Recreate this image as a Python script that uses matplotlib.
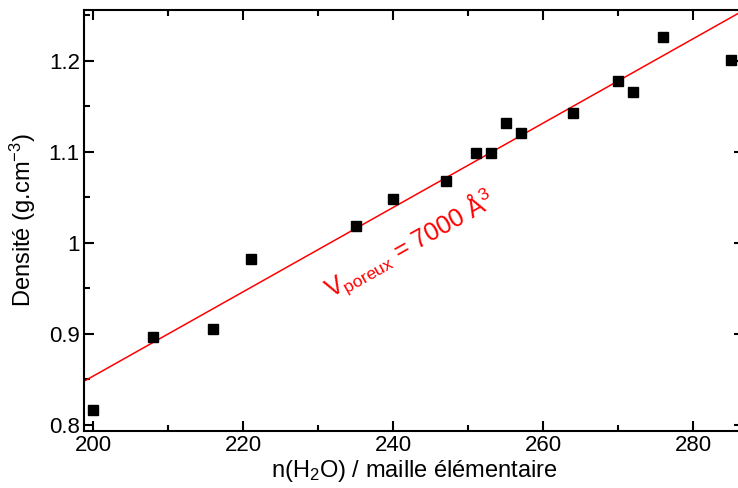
import numpy as np
import matplotlib.pyplot as plt
from matplotlib.ticker import MultipleLocator, FormatStrFormatter

plt.rcParams['font.family'] = ['Liberation Sans', 'DejaVu Sans']
plt.rcParams['mathtext.fontset'] = 'custom'
plt.rcParams['mathtext.rm'] = 'Liberation Sans'
plt.rcParams['mathtext.it'] = 'Liberation Sans'

# données
n_h2o = [200, 208, 216, 221, 235, 240, 247, 251, 253, 255, 257, 264, 270, 272, 276, 285]
densite = [0.816, 0.897, 0.905, 0.982, 1.019, 1.048, 1.068, 1.099, 1.099, 1.132,
           1.121, 1.143, 1.178, 1.166, 1.226, 1.201]

# droite d'ajustement
fit_slope = 0.004634
fit_intercept = 0.8536  # valeur à n = 200
fit_x = np.array([195, 290])
fit_y = fit_intercept + fit_slope * (fit_x - 200)

fig = plt.figure(figsize=(7.38, 4.88), dpi=100)
ax = fig.add_axes([84 / 738, 1 - 431 / 488, 660 / 738, 421 / 488])

ax.plot(fit_x, fit_y, color='red', lw=1.1)
ax.plot(n_h2o, densite, 's', color='black', ms=7, clip_on=False, zorder=3)

ax.text(242.2, 0.998, r'V$_{\mathrm{poreux}}$ = 7000 Å$^3$', color='red', fontsize=18,
        rotation=29.3, rotation_mode='anchor', ha='center', va='center')

ax.set_xlim(198.8, 286.8)
ax.set_ylim(0.7934, 1.256)

ax.xaxis.set_major_locator(MultipleLocator(20))
ax.xaxis.set_minor_locator(MultipleLocator(10))
ax.yaxis.set_major_locator(MultipleLocator(0.1))
ax.yaxis.set_minor_locator(MultipleLocator(0.05))
ax.yaxis.set_major_formatter(FormatStrFormatter('%g'))

ax.tick_params(which='both', direction='in', top=True, right=True, width=1.5,
               labelsize=16, pad=3)
ax.tick_params(which='major', length=7)
ax.tick_params(which='minor', length=4)
for s in ax.spines.values():
    s.set_linewidth(1.5)

ax.set_xlabel('n(H$_2$O) / maille élémentaire', fontsize=17, labelpad=1)
ax.set_ylabel('Densité (g.cm$^{-3}$)', fontsize=17, labelpad=8)

fig.savefig('out.png', dpi=100)
